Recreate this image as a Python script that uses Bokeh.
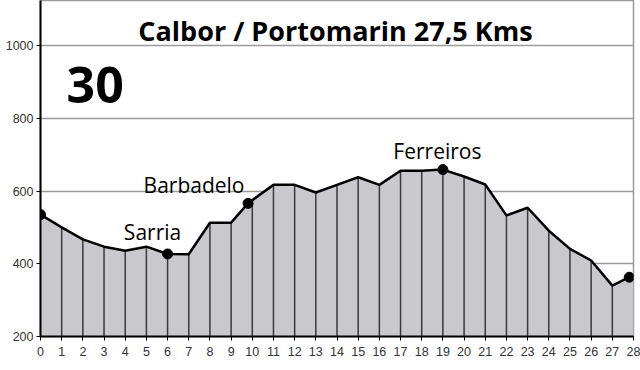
from bokeh.plotting import figure
from bokeh.models import Range1d, FixedTicker
from bokeh.core.properties import value
from bokeh.embed import file_html
from bokeh.resources import INLINE

# elevation profile (km, metres)
km = [0, 1, 2, 3, 4, 5, 6, 7, 8, 9, 9.8, 10, 11, 12, 13, 14, 15, 16, 17, 18, 19, 20, 21, 22, 23, 24, 25, 26, 27, 27.8, 28]
elev = [535, 500, 467, 447, 436, 447, 427, 426, 513, 513, 566, 575, 617, 617, 596, 617, 638, 617, 656, 656, 659, 640, 618, 533, 554, 491, 441, 409, 340, 363, 365]

# km markers (vertical drop lines)
drop_km = [1, 2, 3, 4, 5, 6, 7, 8, 9, 10, 11, 12, 13, 14, 15, 16, 17, 18, 19, 20, 21, 22, 23, 24, 25, 26, 27]

# named places
place_km = [0, 6, 9.8, 19, 27.8]
place_elev = [535, 427, 566, 659, 363]
label_names = ["Sarria", "Barbadelo", "Ferreiros"]
label_km = [5.29, 7.25, 18.74]
label_elev = [488, 617, 710]

title_text = "Calbor / Portomarin 27,5 Kms"
stage_text = "30"

x_ticks = list(range(0, 29))
y_ticks = [200, 400, 600, 800, 1000]

p = figure(width=640, height=370, output_backend="svg", toolbar_location=None,
           x_range=Range1d(0, 28), y_range=Range1d(200, 1124),
           min_border_left=40, min_border_right=7, min_border_top=0, min_border_bottom=34)

p.outline_line_color = "#9a9a9a"
p.outline_line_width = 1.5
p.xgrid.grid_line_color = None
p.ygrid.grid_line_color = "#9a9a9a"
p.ygrid.grid_line_width = 1.5
p.ygrid.ticker = FixedTicker(ticks=y_ticks)

for ax in (p.xaxis, p.yaxis):
    ax.axis_line_color = "black"
    ax.axis_line_width = 2
    ax.major_tick_line_color = "black"
    ax.major_tick_line_width = 1
    ax.major_tick_in = 0
    ax.major_tick_out = 4
    ax.minor_tick_line_color = None
    ax.major_label_text_font = "Liberation Sans"
    ax.major_label_text_font_size = "12.5px"
    ax.major_label_text_color = "#333333"

p.xaxis.ticker = FixedTicker(ticks=x_ticks)
p.yaxis.ticker = FixedTicker(ticks=y_ticks)
p.xaxis.major_label_standoff = 6
p.yaxis.major_label_standoff = 3

# area
p.varea(x=km, y1=[200] * len(km), y2=elev, fill_color="#c9c8cd")

# drop lines
drop_top = [elev[km.index(k)] for k in drop_km]
p.segment(x0=drop_km, y0=[200] * len(drop_km), x1=drop_km, y1=drop_top,
          line_color="#3a3a3a", line_width=1.5)

# profile line
p.line(km, elev, line_color="black", line_width=2.5)
p.scatter(place_km, place_elev, size=10, color="black")

# texts
p.text(x=[13.93], y=[1041], text=[title_text], text_font=value("Open Sans"),
       text_font_style="bold", text_font_size="27px", text_align="center",
       text_baseline="alphabetic", text_color="black")
p.text(x=[1.23], y=[893], text=[stage_text], text_font=value("Open Sans"),
       text_font_style="bold", text_font_size="50px", text_align="left",
       text_baseline="alphabetic", text_color="black")
p.text(x=label_km, y=label_elev, text=label_names, text_font=value("Open Sans"),
       text_font_size="21px", text_align="center", text_baseline="alphabetic",
       text_color="black")

open("out.html", "w").write(file_html(p, INLINE))
